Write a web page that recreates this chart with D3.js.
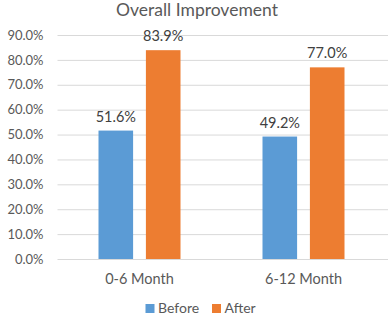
<!DOCTYPE html>
<html><head><meta charset="utf-8">
<script src="https://cdn.jsdelivr.net/npm/d3@7"></script>
<style>body{margin:0;background:#fff}svg{display:block;font-family:Lato,"Open Sans",sans-serif}</style>
</head><body>
<svg id="c" width="388" height="316"></svg>
<script>
const categories = ["0-6 Month", "6-12 Month"];
const seriesNames = ["Before", "After"];
const beforeValues = [0.516, 0.492];
const afterValues = [0.839, 0.770];
const yTicks = [0, 0.1, 0.2, 0.3, 0.4, 0.5, 0.6, 0.7, 0.8, 0.9];
const colors = ["#5B9BD5", "#ED7D31"];
const title = "Overall Improvement";

const svg = d3.select("#c");
const y = d3.scaleLinear().domain([0, 0.9]).range([259, 35]);
const x0 = d3.scaleBand().domain(categories).range([57.5, 385.5]).paddingInner(0.5).paddingOuter(0.25);
const x1 = d3.scaleBand().domain(seriesNames).range([0, x0.bandwidth()]).paddingInner(0.27);
const color = d3.scaleOrdinal().domain(seriesNames).range(colors);
const fmt = d3.format(".1%");

// gridlines + tick labels
const yAxis = d3.axisLeft(y).tickValues(yTicks).tickFormat(fmt).tickSize(-(388 - 57.5)).tickPadding(14);
const ga = svg.append("g").attr("transform", "translate(57.5,0)").call(yAxis);
ga.select(".domain").remove();
ga.selectAll(".tick line").attr("stroke", "#D9D9D9").attr("stroke-width", 1);
ga.selectAll(".tick text").attr("fill", "#595959").attr("font-size", 13).attr("font-family", "Lato,'Open Sans',sans-serif");

const rows = categories.map((c, i) => ({cat: c, vals: [beforeValues[i], afterValues[i]]}));
const groups = svg.append("g").selectAll("g").data(rows).join("g")
  .attr("transform", d => `translate(${x0(d.cat)},0)`);
const bars = groups.selectAll("g").data(d => d.vals.map((v, j) => ({s: seriesNames[j], v}))).join("g");
bars.append("rect")
  .attr("x", d => x1(d.s)).attr("width", x1.bandwidth())
  .attr("y", d => y(d.v)).attr("height", d => y(0) - y(d.v))
  .attr("fill", d => color(d.s));
bars.append("text")
  .attr("x", d => x1(d.s) + x1.bandwidth() / 2).attr("y", d => y(d.v) - 9)
  .attr("text-anchor", "middle").attr("fill", "#404040").attr("font-size", 14.5)
  .text(d => fmt(d.v));

// category axis
const xa = svg.append("g").attr("transform", `translate(0,${y(0)})`)
  .call(d3.axisBottom(x0).tickSize(0).tickPadding(15));
xa.select(".domain").remove();
xa.selectAll("text").attr("fill", "#595959").attr("font-size", 14.5).attr("font-family", "Lato,'Open Sans',sans-serif");

// title
svg.append("text").attr("x", 197).attr("y", 15.5).attr("text-anchor", "middle")
  .attr("fill", "#595959").attr("font-size", 17.5).text(title);

// legend
const leg = svg.append("g");
const legX = [145.5, 212];
seriesNames.forEach((s, i) => {
  leg.append("rect").attr("x", legX[i]).attr("y", 304).attr("width", 9).attr("height", 9).attr("fill", color(s));
  leg.append("text").attr("x", legX[i] + 12.5).attr("y", 313).attr("fill", "#595959").attr("font-size", 14).text(s);
});
</script>
</body></html>
